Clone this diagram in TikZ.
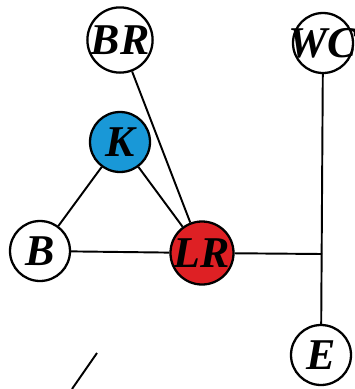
\documentclass[tikz,border=0pt]{standalone}
\usepackage{fontspec}
\setmainfont{Liberation Serif}
\usepackage{tikz}
\usetikzlibrary{positioning}
\definecolor{roomblue}{RGB}{25,152,215}
\definecolor{roomred}{RGB}{222,32,36}
\tikzset{
  room/.style={
    draw, circle, minimum size=1.2cm, inner sep=0pt,
    fill=white, font=\fontsize{25}{28}\selectfont\bfseries\itshape,
    line width=1.3pt
  },
  link/.style={line width=1.1pt}
}

\begin{document}
\begin{tikzpicture}[x=0.02cm, y=-0.02cm]
  \useasboundingbox (0,0) rectangle (355,389);

  \node[room]                (br) at (120,40)  {BR};
  \node[room, inner sep=-7pt](wc) at (323,43)  {WC};
  \node[room, fill=roomblue] (k)  at (120,142) {K};
  \node[room]                (b)  at (40,251)  {B};
  \node[room, fill=roomred]  (lr) at (202,253) {LR};
  \node[room]                (e)  at (321,355) {E};
  \coordinate (jn) at (322,254);

  % triangle around the kitchen
  \draw[link] (k) -- (b);
  \draw[link] (k) -- (lr);
  \draw[link] (b) -- (lr);
  \draw[link] (br) -- (lr);

  % corridor to WC and E
  \draw[link] (wc) -- (e);
  \draw[link] (lr) -- (jn);

  % stray stroke
  \draw[link] (97,353) -- (72,389);
\end{tikzpicture}
\end{document}
